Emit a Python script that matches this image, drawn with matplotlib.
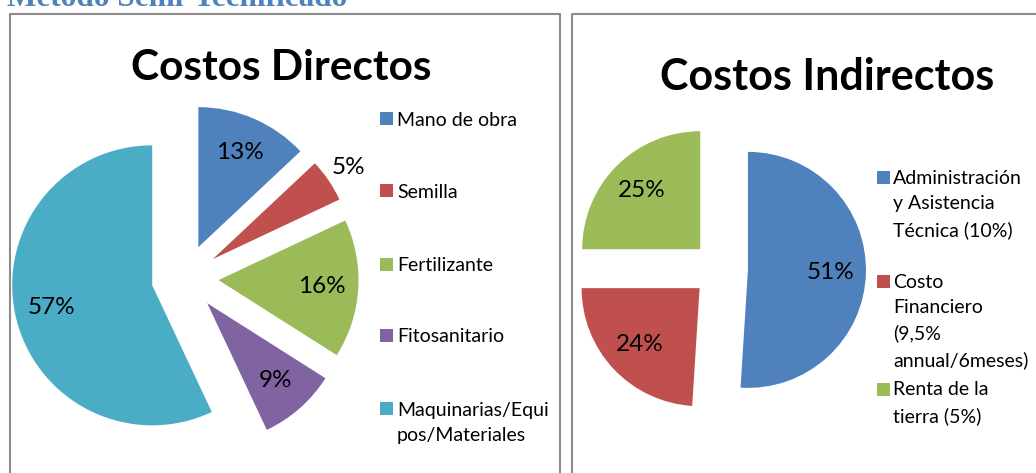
import matplotlib
matplotlib.use("Agg")
import matplotlib.pyplot as plt
from matplotlib.patches import Rectangle
from matplotlib.lines import Line2D
import numpy as np

# data
direct_labels = ["Mano de obra", "Semilla", "Fertilizante", "Fitosanitario",
                 "Maquinarias/Equi\npos/Materiales"]
direct_values = [13, 5, 16, 9, 57]
direct_colors = ["#4F81BD", "#C0504D", "#9BBB59", "#8064A2", "#4BACC6"]

indirect_labels = ["Administración\ny Asistencia\nTécnica (10%)",
                   "Costo\nFinanciero\n(9,5%\nannual/6meses)",
                   "Renta de la\ntierra (5%)"]
indirect_values = [51, 24, 25]
indirect_colors = ["#4F81BD", "#C0504D", "#9BBB59"]

W, H = 1036, 473
FONT = "Lato"
LINE_STEP = 26  # px between legend text lines


def fx(px):
    return px / W


def fy(py):
    return 1 - py / H


fig = plt.figure(figsize=(W / 100, H / 100), dpi=100)
fig.patch.set_facecolor("white")

# panel borders
border = dict(color="#8C8C8C", lw=1.5, transform=fig.transFigure)
fig.add_artist(Line2D([fx(10), fx(10), fx(560), fx(560)],
                      [fy(480), fy(14), fy(14), fy(480)], **border))
fig.add_artist(Line2D([fx(572), fx(572), fx(1040)],
                      [fy(480), fy(14), fy(14)], **border))

# heading cut at the top of the page
fig.text(fx(7), fy(6), "Metodo Semi-Tecnificado", family="Liberation Serif",
         weight="bold", fontsize=22.5, color="#4F81BD", va="baseline", ha="left")


def draw_pie(cx, cy, r, half, values, colors, explode, pctdist, out_dist):
    ax = fig.add_axes([fx(cx - half), fy(cy + half), 2 * half / W, 2 * half / H])
    wedges, _, autotexts = ax.pie(
        values, colors=colors, startangle=90, counterclock=False,
        explode=[explode] * len(values), autopct="%1.0f%%", pctdistance=pctdist,
        wedgeprops=dict(linewidth=0),
        textprops=dict(family=FONT, fontsize=17.5, color="black"))
    for w, t, v in zip(wedges, autotexts, values):
        if v < 7:
            ang = np.deg2rad((w.theta1 + w.theta2) / 2)
            t.set_position((w.center[0] + out_dist * np.cos(ang),
                            w.center[1] + out_dist * np.sin(ang)))
    lim = half / r
    ax.set_xlim(-lim, lim)
    ax.set_ylim(-lim, lim)
    ax.set_aspect("equal", adjustable="box")
    ax.axis("off")
    return ax


draw_pie(185, 278, 140, 180, direct_values, direct_colors, 0.24, 0.74, 1.17)
draw_pie(720, 269, 118, 150, indirect_values, indirect_colors, 0.237, 0.70, 1.2)

fig.text(fx(281), fy(68), "Costos Directos", family=FONT, weight="bold",
         fontsize=30.5, ha="center", va="center")
fig.text(fx(827), fy(77), "Costos Indirectos", family=FONT, weight="bold",
         fontsize=31, ha="center", va="center")


def draw_legend(x_sq, x_txt, baselines, labels, colors, size=13):
    for yb, lab, col in zip(baselines, labels, colors):
        fig.add_artist(Rectangle((fx(x_sq), fy(yb - 0.5)), size / W, size / H,
                                 transform=fig.transFigure, facecolor=col,
                                 edgecolor="none"))
        # multi-line text is placed by the baseline of its last line
        last = yb + lab.count("\n") * LINE_STEP
        fig.text(fx(x_txt), fy(last), lab, family=FONT, fontsize=14,
                 ha="left", va="baseline", linespacing=1.58)


draw_legend(380, 397, [126, 198, 271, 342, 415], direct_labels, direct_colors)
draw_legend(877, 893, [184, 288, 396], indirect_labels, indirect_colors)

fig.savefig("out.png", dpi=100, facecolor="white")
